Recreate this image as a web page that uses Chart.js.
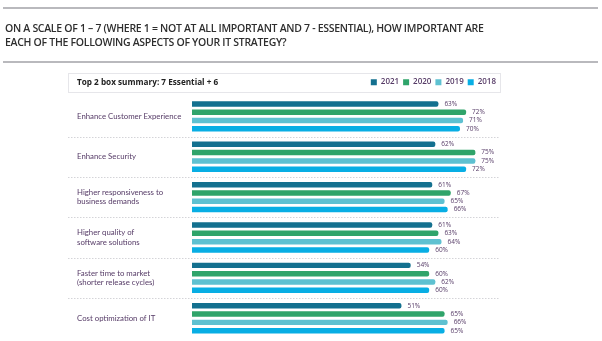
<!DOCTYPE html>
<html>
<head>
<meta charset="utf-8">
<script src="https://cdn.jsdelivr.net/npm/chart.js@4"></script>
<style>
  html, body { margin: 0; padding: 0; background: #fff; }
  #wrap { position: relative; width: 602px; height: 341px; overflow: hidden; }
  #chart { position: absolute; left: 0; top: 0; }
  .rule { position: absolute; left: 3px; width: 595px; height: 2px; background: #b9b9bd; }
  #title { position: absolute; left: 5px; top: 21px; font-family: 'Open Sans', sans-serif; font-weight: 600;
           font-size: 10.5px; line-height: 14px; color: #2e2e2e; letter-spacing: -0.3px; }
</style>
</head>
<body>
<div id="wrap">
  <canvas id="chart" width="602" height="341"></canvas>
  <div class="rule" style="top:7px"></div>
  <div id="title">ON A SCALE OF 1 – 7 (WHERE 1 = NOT AT ALL IMPORTANT AND 7 - ESSENTIAL), HOW IMPORTANT ARE<br>EACH OF THE FOLLOWING ASPECTS OF YOUR IT STRATEGY?</div>
  <div class="rule" style="top:61px"></div>
</div>
<script>
const categories = [
  'Enhance Customer Experience',
  'Enhance Security',
  ['Higher responsiveness to', 'business demands'],
  ['Higher quality of', 'software solutions'],
  ['Faster time to market', '(shorter release cycles)'],
  'Cost optimization of IT'
];
const years = ['2021', '2020', '2019', '2018'];
const values2021 = [63, 62, 61, 61, 54, 51];
const values2020 = [72, 75, 67, 63, 60, 65];
const values2019 = [71, 75, 65, 64, 62, 66];
const values2018 = [70, 72, 66, 60, 60, 65];
const colors = ['#13708f', '#2fa46a', '#5ec1d1', '#08aee4'];
const subtitle = 'Top 2 box summary: 7 Essential + 6';

const axisMin = -17;
const textColor = '#553a66';

const seriesValues = [values2021, values2020, values2019, values2018];

const panelPlugin = {
  id: 'panel',
  beforeDraw(chart) {
    const ctx = chart.ctx;
    const y = chart.scales.y;
    ctx.save();
    // header box
    ctx.strokeStyle = '#e6e6ea';
    ctx.lineWidth = 1;
    ctx.strokeRect(68.5, 73.5, 432, 19);
    ctx.font = 'bold 8.2px "Open Sans", sans-serif';
    ctx.fillStyle = '#222';
    ctx.textBaseline = 'middle';
    ctx.fillText(subtitle, 77, 83);
    // dotted separators between groups
    ctx.strokeStyle = '#d4d4d8';
    ctx.setLineDash([1.5, 1.5]);
    for (let i = 0; i < categories.length - 1; i++) {
      const py = Math.round((y.getPixelForValue(i) + y.getPixelForValue(i + 1)) / 2) + 0.5;
      ctx.beginPath();
      ctx.moveTo(68, py);
      ctx.lineTo(500, py);
      ctx.stroke();
    }
    ctx.restore();
  },
  afterDatasetsDraw(chart) {
    const ctx = chart.ctx;
    ctx.save();
    ctx.font = '6.5px "Open Sans", sans-serif';
    ctx.fillStyle = textColor;
    ctx.textBaseline = 'middle';
    chart.data.datasets.forEach((ds, di) => {
      chart.getDatasetMeta(di).data.forEach((bar, i) => {
        ctx.fillText(ds.data[i] + '%', bar.x + 6, bar.y);
      });
    });
    ctx.restore();
  }
};

new Chart(document.getElementById('chart'), {
  type: 'bar',
  data: {
    labels: categories,
    datasets: years.map((yr, i) => ({
      label: yr,
      data: seriesValues[i],
      backgroundColor: colors[i],
      base: axisMin,
      categoryPercentage: 0.824,
      barPercentage: 0.66,
      borderRadius: { topRight: 2, bottomRight: 2 },
      borderSkipped: 'start'
    }))
  },
  options: {
    indexAxis: 'y',
    responsive: false,
    animation: false,
    layout: { padding: { left: 77, right: 102, top: 74.2, bottom: 2.6 } },
    scales: {
      x: { display: false, min: axisMin, max: 83 },
      y: {
        grid: { display: false },
        border: { display: false },
        afterFit(scale) {
          scale.width = 115;
          scale.paddingTop = 0;
          scale.paddingBottom = 0;
        },
        ticks: {
          crossAlign: 'far',
          color: textColor,
          font: { family: 'Lato', size: 7.8, lineHeight: 1.2 }
        }
      }
    },
    plugins: {
      legend: {
        position: 'top',
        align: 'end',
        labels: {
          boxWidth: 6,
          boxHeight: 6,
          padding: 4,
          color: textColor,
          font: { family: 'Open Sans', size: 8, weight: '600' }
        }
      },
      tooltip: { enabled: false }
    }
  },
  plugins: [panelPlugin]
});
</script>
</body>
</html>
